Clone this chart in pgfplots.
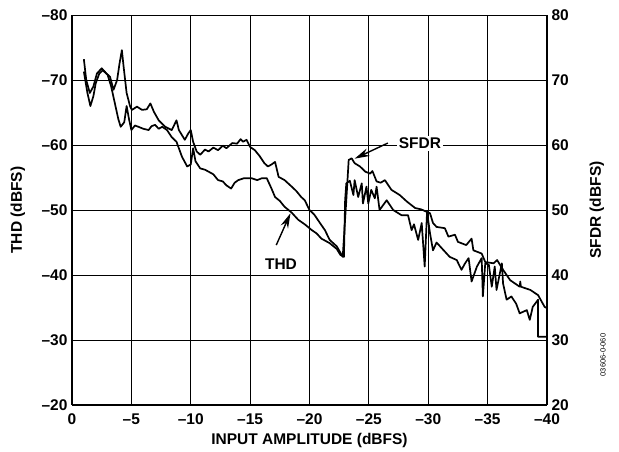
\documentclass[border=0pt]{standalone}
\usepackage{fontspec}
\setmainfont{Liberation Sans}
\usepackage{pgfplots}
\pgfplotsset{compat=1.18}
\usetikzlibrary{arrows.meta}
\begin{document}
\begin{tikzpicture}
\path[use as bounding box] (-72pt,-46pt) rectangle (547pt,405pt);
\pgfplotsset{
  every axis/.append style={
    scale only axis, width=475pt, height=390pt,
    xmin=-40, xmax=0, x dir=reverse,
    tick label style={font=\fontsize{15.5}{17}\selectfont\bfseries},
    label style={font=\fontsize{15.5}{17}\selectfont\bfseries},
    tick style={draw=none}, major tick length=0pt,
    axis line style={line width=1.6pt},
  },
}
\begin{axis}[
  at={(0pt,0pt)}, anchor=south west,
  ymin=-80, ymax=-20, y dir=reverse,
  axis y line*=left, axis x line*=bottom,
  xtick={0,-5,-10,-15,-20,-25,-30,-35,-40},
  xticklabels={0,–5,–10,–15,–20,–25,–30,–35,–40},
  ytick={-80,-70,-60,-50,-40,-30,-20},
  yticklabels={–80,–70,–60,–50,–40,–30,–20},
  grid=major, major grid style={black, line width=0.8pt},
  xlabel={INPUT AMPLITUDE (dBFS)},
  ylabel={THD (dBFS)},
  xticklabel style={yshift=-5pt},
  yticklabel style={xshift=-1pt},
  xlabel style={at={(axis description cs:0.5,-0.0897)}, anchor=center},
  ylabel style={at={(axis description cs:-0.1137,0.5)}, anchor=center},
]
\addplot[black, line width=1.7pt, line join=round] coordinates {
(-1.0,-71.3) (-1.3,-68) (-1.55,-66.0) (-1.8,-67.5) (-2.0,-69.5) (-2.3,-71) (-2.6,-71.5) (-3.0,-70.8) (-3.3,-69) (-3.6,-66.5) (-3.9,-64) (-4.1,-62.8) (-4.4,-63.5) (-4.6,-66) (-4.8,-64) (-5.0,-62.3) (-5.3,-63.0) (-5.6,-62.8) (-6.0,-62.5) (-6.45,-62.3) (-6.7,-62.9) (-7.0,-63.1) (-7.3,-62.5) (-7.6,-62.8) (-8.0,-62.3) (-8.4,-61.2) (-8.8,-60.5) (-9.26,-58.2) (-9.7,-56.7) (-10.0,-57.0) (-10.2,-59.5) (-10.4,-57.5) (-10.8,-56.4) (-11.2,-56.2) (-11.5,-55.9) (-11.9,-55.5) (-12.3,-54.6) (-12.7,-54.4) (-13.0,-53.8) (-13.4,-53.3) (-13.7,-54.2) (-14.0,-54.6) (-14.5,-54.9) (-15.1,-54.9) (-15.6,-54.6) (-16.0,-54.9) (-16.4,-54.9) (-16.8,-53.3) (-17.1,-52.0) (-17.5,-51.4) (-17.9,-50.5) (-18.5,-49.6) (-19.05,-48.5) (-19.6,-47.8) (-20.2,-46.9) (-20.6,-46.4) (-21.0,-45.6) (-21.7,-44.9) (-22.3,-44.0) (-22.6,-43.1) (-22.9,-42.8) (-23.0,-51.5) (-23.1,-54.1) (-23.4,-54.5) (-23.7,-52.3) (-23.8,-54.6) (-24.1,-52.0) (-24.4,-54.1) (-24.5,-51.0) (-24.8,-53.6) (-24.95,-51.0) (-25.2,-53.1) (-25.5,-51.8) (-25.65,-53.6) (-25.9,-50) (-26.5,-51.5) (-27.05,-50) (-27.75,-49.2) (-28.3,-49.2) (-28.6,-46.9) (-28.8,-47.8) (-29.15,-45.4) (-29.45,-48.0) (-29.7,-41.3) (-29.9,-49.7) (-30.15,-46.4) (-30.4,-43.8) (-30.7,-45.0) (-31.3,-43.8) (-31.8,-42.8) (-32.4,-42.3) (-32.8,-40.8) (-33.1,-41.8) (-33.4,-42.6) (-33.65,-39.0) (-34.1,-41.3) (-34.5,-42.6) (-34.6,-36.7) (-34.8,-41.8) (-35.1,-41.6) (-35.35,-38.2) (-35.6,-41.3) (-35.75,-37.7) (-36.2,-41.8) (-36.3,-38.7) (-36.6,-36.2) (-37.0,-36.7) (-37.4,-35.6) (-37.7,-34.1) (-38.3,-34.6) (-38.55,-33.1) (-38.8,-35.1) (-39.25,-36.2) (-39.25,-30.5) (-40,-30.5)
};
\end{axis}
\begin{axis}[
  at={(0pt,0pt)}, anchor=south west,
  ymin=20, ymax=80,
  axis y line*=right, axis x line=none,
  ytick={20,30,40,50,60,70,80},
  yticklabels={20,30,40,50,60,70,80},
  yticklabel style={xshift=1pt},
  ylabel={SFDR (dBFS)},
  ylabel style={at={(axis description cs:1.105,0.5)}, anchor=center},
]
\addplot[black, line width=1.7pt, line join=round] coordinates {
(-1.0,73.2) (-1.2,70) (-1.5,68) (-1.8,69) (-2.1,71) (-2.5,71.8) (-2.9,71.0) (-3.2,70.5) (-3.5,68.5) (-3.8,70) (-4.0,72.5) (-4.2,74.6) (-4.35,72) (-4.6,68) (-4.9,65.9) (-5.05,65.4) (-5.47,65.9) (-5.9,65.4) (-6.3,65.5) (-6.6,66.4) (-6.9,65.1) (-7.3,63.8) (-7.85,62.8) (-8.4,62.3) (-8.8,63.8) (-9.0,62.3) (-9.5,60.8) (-9.8,61.8) (-10.0,62.3) (-10.2,60.5) (-10.5,59.0) (-10.8,58.5) (-11.2,59.3) (-11.5,59.0) (-11.9,59.6) (-12.3,59.2) (-12.7,59.9) (-13.0,59.5) (-13.5,60.3) (-13.9,60.2) (-14.2,60.9) (-14.4,60.5) (-14.7,60.8) (-15.0,59.7) (-15.4,59.2) (-15.8,58.3) (-16.2,57.2) (-16.5,56.7) (-16.8,57.0) (-17.1,57.4) (-17.4,55.1) (-17.9,54.6) (-18.5,53.6) (-18.9,52.9) (-19.3,52.0) (-19.6,51.5) (-20.0,50.0) (-20.4,49.3) (-20.9,47.95) (-21.3,46.9) (-21.7,45.4) (-22.3,44.4) (-22.8,42.8) (-23.1,51.5) (-23.3,57.7) (-23.55,57.95) (-23.8,57.2) (-24.25,56.7) (-24.7,55.9) (-25.1,55.6) (-25.3,56.0) (-25.65,54.4) (-26.0,54.2) (-26.35,54.6) (-26.9,53.1) (-27.6,52.3) (-28.2,51.3) (-28.9,50.3) (-29.4,50.1) (-29.9,49.7) (-30.15,49.5) (-30.4,48.0) (-30.7,47.4) (-31.4,47.2) (-31.7,45.9) (-32.25,46.2) (-32.5,45.1) (-33.2,44.6) (-33.65,45.6) (-33.8,43.8) (-34.5,43.3) (-34.8,42.0) (-35.5,41.8) (-35.8,42.3) (-36.3,40.8) (-36.9,39.2) (-37.7,38.2) (-37.75,39.0) (-37.8,38.2) (-38.6,37.7) (-39.25,36.9) (-39.8,35.1) (-40,34.9)
};
\node[fill=white, inner sep=2pt, font=\fontsize{15.5}{17}\selectfont\bfseries] at (axis cs:-29.3,60.3) {SFDR};
\draw[-{Stealth[length=15pt,width=8pt]}, line width=1.4pt] (axis cs:-26.6,60.3) -- (axis cs:-23.8,57.9);
\node[font=\fontsize{15.5}{17}\selectfont\bfseries] at (axis cs:-17.6,41.6) {THD};
\draw[-{Stealth[length=15pt,width=8pt]}, line width=1.4pt] (axis cs:-17.2,44.6) -- (axis cs:-18.4,49.5);
\end{axis}
\node[rotate=90, font=\fontsize{7.5}{8}\selectfont] at (531pt,50pt) {03606-0-060};
\end{tikzpicture}
\end{document}
